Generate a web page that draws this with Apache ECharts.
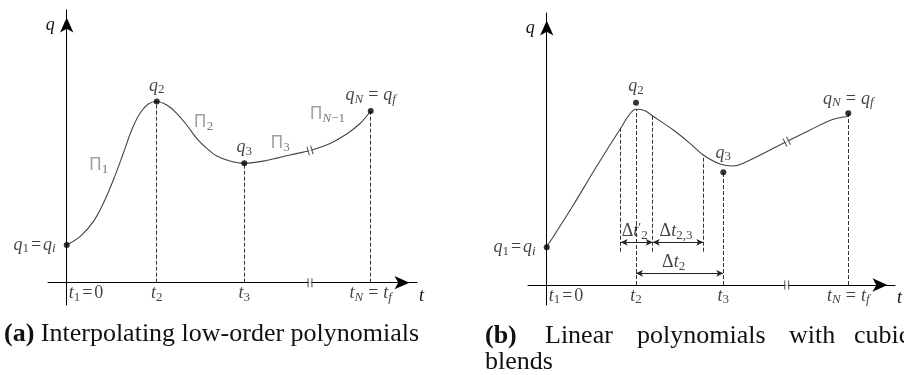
<!DOCTYPE html>
<html>
<head>
<meta charset="utf-8">
<script src="https://cdn.jsdelivr.net/npm/echarts@6/dist/echarts.min.js"></script>
<style>
  html, body { margin: 0; padding: 0; background: #fff; }
  #chart { width: 904px; height: 375px; }
</style>
</head>
<body>
<div id="chart"></div>
<script>
// ---------- (a) interpolating low-order polynomials ----------
const aViaT = [0, 1.0, 1.973, 3.378];
const aViaQ = [0.42, 2.013, 1.327, 1.908];
const aViaLabels = [
  '{i|q}{s|1}{e|=}{i|q}{si|i}',
  '{i|q}{s|2}',
  '{i|q}{s|3}',
  '{i|q}{si|N}{E|=}{i|q}{si|f}'
];
const aCurveT = [0, 0.148, 0.296, 0.407, 0.518, 0.629, 0.722, 0.814, 0.907, 1.0,
  1.111, 1.222, 1.333, 1.444, 1.556, 1.667, 1.814, 1.973, 2.222, 2.481,
  2.703, 2.926, 3.111, 3.259, 3.378];
const aCurveQ = [0.42, 0.511, 0.678, 0.882, 1.141, 1.438, 1.697, 1.882, 1.986, 2.013,
  1.974, 1.882, 1.752, 1.604, 1.493, 1.408, 1.352, 1.327, 1.358, 1.419,
  1.469, 1.547, 1.652, 1.769, 1.908];
const aBreakT = 2.703;
const aSegmentLabels = ['{p|Π}{ps|1}', '{p|Π}{ps|2}', '{p|Π}{ps|3}', '{p|Π}{psi|N}{ps|−1}'];

// ---------- (b) linear polynomials with cubic blends ----------
const bViaT = [0, 0.992, 1.962, 3.351];
const bViaQ = [0.42, 2.026, 1.252, 1.908];
const bViaLabels = aViaLabels;
const bCurveT = [0, 0.073, 0.296, 0.518, 0.703, 0.822, 0.907, 0.992, 1.092, 1.178,
  1.407, 1.592, 1.740, 1.926, 2.073, 2.184, 2.629, 2.926, 3.184, 3.351];
const bCurveQ = [0.43, 0.537, 0.889, 1.259, 1.556, 1.741, 1.878, 1.952, 1.937, 1.878,
  1.722, 1.574, 1.444, 1.344, 1.322, 1.352, 1.574, 1.722, 1.841, 1.872];
const bBlendT = [0.822, 1.178, 1.740];
const bBreakT = 2.667;
const bSpanLabels = ['{r|Δ}{i|t}{sp|′}{s|2}', '{r|Δ}{i|t}{s|2,3}', '{r|Δ}{i|t}{s|2}'];

// shared time-axis tick labels
const tickLabels = [
  '{i|t}{s|1}{e|=}{r|0}',
  '{i|t}{s|2}',
  '{i|t}{s|3}',
  '{i|t}{si|N}{E|=}{i|t}{si|f}'
];

const SERIF = "'Liberation Serif', 'DejaVu Serif', serif";
const INK = '#111';
const CURVE = '#444';

const rich = {
  i:   { fontFamily: SERIF, fontStyle: 'italic', fontSize: 18, lineHeight: 21, color: INK },
  r:   { fontFamily: SERIF, fontSize: 18, lineHeight: 21, color: INK },
  e:   { fontFamily: SERIF, fontSize: 18, lineHeight: 21, padding: [0, 2, 0, 2], color: INK },
  E:   { fontFamily: SERIF, fontSize: 18, lineHeight: 21, padding: [0, 5, 0, 5], color: INK },
  s:   { fontFamily: SERIF, fontSize: 13, lineHeight: 13, verticalAlign: 'bottom', color: INK },
  si:  { fontFamily: SERIF, fontStyle: 'italic', fontSize: 13, lineHeight: 13, verticalAlign: 'bottom', color: INK },
  sp:  { fontFamily: SERIF, fontSize: 13, lineHeight: 13, verticalAlign: 'top', color: INK },
  p:   { fontFamily: "'DejaVu Sans', sans-serif", fontSize: 17, lineHeight: 21, color: '#8a8a8a' },
  ps:  { fontFamily: SERIF, fontSize: 13, lineHeight: 13, verticalAlign: 'bottom', color: '#555' },
  psi: { fontFamily: SERIF, fontStyle: 'italic', fontSize: 13, lineHeight: 13, verticalAlign: 'bottom', color: '#555' }
};

const zip = (xs, ys) => xs.map((x, k) => [x, ys[k]]);
const curveAt = (ts, qs, t) => {
  let best = 0;
  ts.forEach((v, k) => { if (Math.abs(v - t) < Math.abs(ts[best] - t)) best = k; });
  return qs[best];
};

function axisPair(gridIndex, tMin, tMax, qMin, qMax) {
  const line = {
    show: true, onZero: true,
    symbol: ['none', 'arrow'], symbolSize: [10, 15], symbolOffset: [0, -7.5],
    lineStyle: { color: '#000', width: 1 }
  };
  return {
    x: {
      type: 'value', gridIndex, min: tMin, max: tMax,
      axisLine: line, axisTick: { show: false }, axisLabel: { show: false }, splitLine: { show: false },
      name: 't', nameLocation: 'end', nameGap: 2,
      nameTextStyle: { fontFamily: SERIF, fontStyle: 'italic', fontSize: 18, lineHeight: 21, color: INK,
        verticalAlign: 'top', align: 'left', padding: [3, 0, 0, 0] }
    },
    y: {
      type: 'value', gridIndex, min: qMin, max: qMax,
      axisLine: line, axisTick: { show: false }, axisLabel: { show: false }, splitLine: { show: false },
      name: 'q', nameLocation: 'end', nameGap: -15,
      nameTextStyle: { fontFamily: SERIF, fontStyle: 'italic', fontSize: 18, lineHeight: 21, color: INK,
        align: 'right', verticalAlign: 'middle', padding: [0, 12, 0, 0] }
    }
  };
}

const axA = axisPair(0, -0.208, 3.892, -0.248, 3.03);
const axB = axisPair(1, -0.208, 3.870, -0.222, 3.022);

const dashStyle = { color: '#333', width: 1, type: [4, 2] };

// an invisible anchor keeps a text label attached to a data position
const anchor = { symbol: 'circle', symbolSize: 1, itemStyle: { color: 'rgba(0,0,0,0)' }, silent: true };

function breakSeries(g, t, q, rot) {
  const pts = [[t, q, rot], [t, 0, 0]];
  return [
    { type: 'scatter', xAxisIndex: g, yAxisIndex: g, z: 5, silent: true,
      symbol: 'rect', symbolSize: [3.5, 12],
      symbolRotate: p => p[2],
      itemStyle: { color: '#fff' }, data: pts },
    { type: 'scatter', xAxisIndex: g, yAxisIndex: g, z: 6, silent: true,
      symbol: 'path://M0,0L1,0L1,10L0,10Z M3.5,0L4.5,0L4.5,10L3.5,10Z', symbolSize: [5, 9],
      symbolRotate: p => p[2],
      itemStyle: { color: '#333' }, data: pts }
  ];
}

function tickSeries(g, ts) {
  return Object.assign({
    type: 'scatter', xAxisIndex: g, yAxisIndex: g, z: 8,
    data: ts.map((t, k) => ({
      value: [t, 0],
      label: k === 0 ? { align: 'left', offset: [2, 0] } : {}
    })),
    label: { show: true, position: 'bottom', distance: 0, rich,
      formatter: p => tickLabels[p.dataIndex] }
  }, anchor);
}

function viaSeries(g, ts, qs, labels, tops) {
  return {
    type: 'scatter', xAxisIndex: g, yAxisIndex: g, z: 7, silent: true,
    symbol: 'circle', symbolSize: 6, itemStyle: { color: '#000' },
    data: ts.map((t, k) => ({
      value: [t, qs[k]],
      label: k === 0 ? { position: 'left', distance: 8 } : { position: 'top', distance: tops[k] }
    })),
    label: { show: true, rich, formatter: p => labels[p.dataIndex] }
  };
}

// Π labels sit near the middle of each polynomial piece
const aSegEnds = [[0, 1], [1, 2], [2, 'break'], ['break', 3]];
const aSegOffsets = [[-13, -8], [3, -10], [3, -13], [-13, -16]];
const aBreakQ = curveAt(aCurveT, aCurveQ, aBreakT);
const segMid = aSegEnds.map(([u, v]) => {
  const t0 = u === 'break' ? aBreakT : aViaT[u], q0 = u === 'break' ? aBreakQ : aViaQ[u];
  const t1 = v === 'break' ? aBreakT : aViaT[v], q1 = v === 'break' ? aBreakQ : aViaQ[v];
  return [(t0 + t1) / 2, (q0 + q1) / 2];
});

const bBreakQ = curveAt(bCurveT, bCurveQ, bBreakT) + 0.02;
const ARROW_Q1 = 0.474, ARROW_Q2 = 0.13, BLEND_DASH_BOTTOM = 0.37;
const bSpans = [
  [bBlendT[0], bBlendT[1], ARROW_Q1],
  [bBlendT[1], bBlendT[2], ARROW_Q1],
  [bViaT[1], bViaT[2], ARROW_Q2]
];

const capStyle = (extra) => Object.assign({ fontFamily: SERIF, fontSize: 26, lineHeight: 26, color: INK }, extra || {});

const option = {
  animation: false,
  backgroundColor: '#fff',
  grid: [
    { left: 48, top: 10, width: 369, height: 295, outerBoundsMode: 'none' },
    { left: 528, top: 13, width: 367, height: 292, outerBoundsMode: 'none' }
  ],
  xAxis: [axA.x, axB.x],
  yAxis: [axA.y, axB.y],
  title: [
    { left: 4, top: 321, padding: 0,
      text: '{b|(a)}{n| Interpolating low-order polynomials}',
      textStyle: capStyle({ fontWeight: 'normal',
        rich: { b: capStyle({ fontWeight: 'bold' }), n: capStyle() } }) },
    { left: 485, top: 323, padding: 0,
      text: '{b|(b)}{w1|Linear}{w2|polynomials}{w3|with}{w4|cubic}\n{w4|blends}',
      textStyle: capStyle({ fontWeight: 'normal',
        rich: {
          b:  capStyle({ fontWeight: 'bold', width: 60 }),
          w1: capStyle({ width: 92 }),
          w2: capStyle({ width: 152 }),
          w3: capStyle({ width: 65 }),
          w4: capStyle()
        } }) }
  ],
  series: [
    // ----- panel (a)
    {
      type: 'line', xAxisIndex: 0, yAxisIndex: 0, smooth: 0.35, showSymbol: false, silent: true,
      lineStyle: { color: CURVE, width: 1.1 }, data: zip(aCurveT, aCurveQ),
      markLine: {
        silent: true, symbol: ['none', 'none'], label: { show: false }, lineStyle: dashStyle,
        data: [1, 2, 3].map(k => [{ coord: [aViaT[k], 0] }, { coord: [aViaT[k], aViaQ[k]] }])
      }
    },
    ...breakSeries(0, aBreakT, aBreakQ, 16),
    viaSeries(0, aViaT, aViaQ, aViaLabels, [0, 2, 2, 2]),
    tickSeries(0, aViaT),
    Object.assign({
      type: 'scatter', xAxisIndex: 0, yAxisIndex: 0, z: 8,
      data: segMid.map((m, k) => ({ value: m, label: { offset: aSegOffsets[k] } })),
      label: { show: true, position: 'inside', rich, formatter: p => aSegmentLabels[p.dataIndex] }
    }, anchor),
    // ----- panel (b)
    {
      type: 'line', xAxisIndex: 1, yAxisIndex: 1, smooth: 0.35, showSymbol: false, silent: true,
      lineStyle: { color: CURVE, width: 1.1 }, data: zip(bCurveT, bCurveQ),
      markLine: {
        silent: true, symbol: ['none', 'none'], label: { show: false }, lineStyle: dashStyle,
        data: [
          ...bBlendT.map(t => [{ coord: [t, BLEND_DASH_BOTTOM] }, { coord: [t, curveAt(bCurveT, bCurveQ, t)] }]),
          [{ coord: [bViaT[1], 0] }, { coord: [bViaT[1], curveAt(bCurveT, bCurveQ, bViaT[1])] }],
          [{ coord: [bViaT[2], 0] }, { coord: [bViaT[2], bViaQ[2]] }],
          [{ coord: [bViaT[3], 0] }, { coord: [bViaT[3], bViaQ[3]] }]
        ]
      }
    },
    {
      type: 'line', xAxisIndex: 1, yAxisIndex: 1, data: [[0, -1]], showSymbol: false, silent: true,
      lineStyle: { opacity: 0 },
      markLine: {
        silent: true, symbol: ['arrow', 'arrow'], symbolSize: [5, 7], label: { show: false },
        lineStyle: { color: '#222', width: 1, type: 'solid', opacity: 1 },
        data: bSpans.map(([t0, t1, q]) => [{ coord: [t0, q] }, { coord: [t1, q] }])
      }
    },
    Object.assign({
      type: 'scatter', xAxisIndex: 1, yAxisIndex: 1, z: 8,
      data: bSpans.map(([t0, t1, q], k) => ({ value: [(t0 + t1) / 2, q], label: { offset: k === 2 ? [-6, 0] : [-2, 0] } })),
      label: { show: true, position: 'top', distance: 0, rich, formatter: p => bSpanLabels[p.dataIndex] }
    }, anchor),
    ...breakSeries(1, bBreakT, bBreakQ, 27),
    viaSeries(1, bViaT, bViaQ, bViaLabels, [0, 3, 6, 1]),
    tickSeries(1, bViaT)
  ]
};

const chart = echarts.init(document.getElementById('chart'), null, { renderer: 'canvas' });
chart.setOption(option);
</script>
</body>
</html>
